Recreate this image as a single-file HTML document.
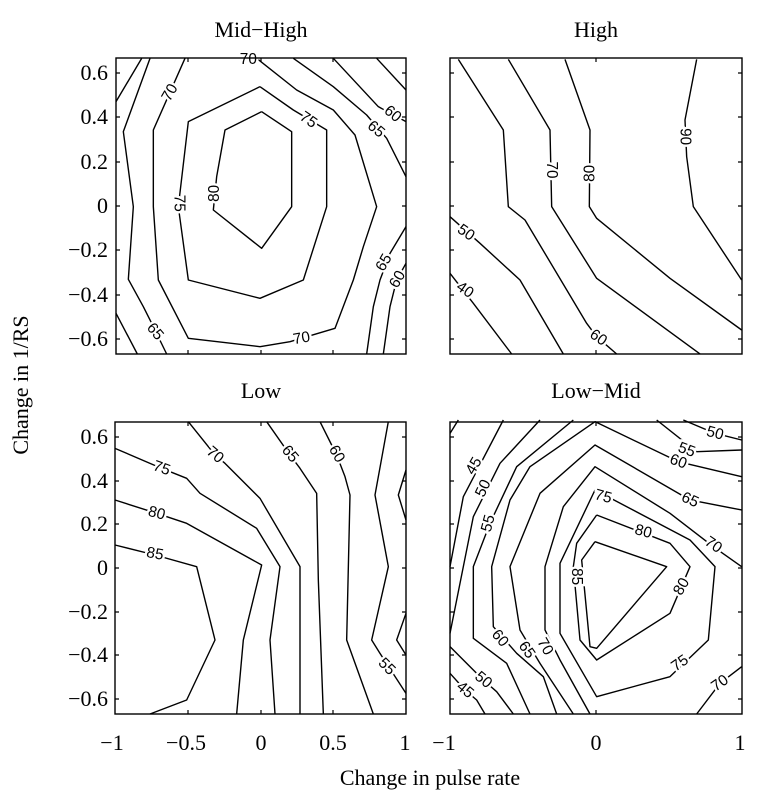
<!DOCTYPE html>
<html><head><meta charset="utf-8"><style>
html,body{margin:0;padding:0;background:#fff;}
svg{display:block;}
.t{font-family:"Liberation Serif",serif;font-size:22px;fill:#000;}
.c polyline{fill:none;stroke:#000;stroke-width:4.2;stroke-linejoin:round;}
.c text{font-family:"Liberation Sans",sans-serif;font-size:46px;fill:#000;stroke:#fff;stroke-width:14px;paint-order:stroke;text-anchor:middle;dominant-baseline:central;}
.ax{fill:none;stroke:#000;stroke-width:1.4;}
</style></head><body>
<svg width="778" height="797" viewBox="0 0 778 797" xmlns="http://www.w3.org/2000/svg">
<rect width="778" height="797" fill="#fff"/>

<g class="c" transform="translate(100,40) scale(0.33333)">
<polyline points="48,185 125,55"/>
<polyline points="150,55 70,275 100,500 85,718 130,800 150,840 200,942"/>
<polyline points="48,820 112,942"/>
<polyline points="255,55 160,270 160,500 175,720 265,895 480,920 570,905 705,865 760,720 790,620 830,500 765,285 700,210 590,150 470,55"/>
<polyline points="580,55 700,140 800,225 860,295 918,410"/>
<polyline points="700,55 835,200 918,245"/>
<polyline points="830,55 918,150"/>
<polyline points="918,560 870,640 840,720 820,800 800,942"/>
<polyline points="918,670 890,720 870,800 850,942"/>
<polyline points="480,140 265,245 235,500 265,720 480,775 610,720 680,500 680,270 580,210 480,140"/>
<polyline points="485,215 375,270 350,410 340,510 485,625 575,500 575,275 485,215"/>
<text x="210" y="158" transform="rotate(-60 210 158)">70</text>
<text x="445" y="58">70</text>
<text x="605" y="895" transform="rotate(-10 605 895)">70</text>
<text x="165" y="875" transform="rotate(50 165 875)">65</text>
<text x="625" y="240" transform="rotate(35 625 240)">75</text>
<text x="237" y="490" transform="rotate(90 237 490)">75</text>
<text x="343" y="460" transform="rotate(-90 343 460)">80</text>
<text x="828" y="268" transform="rotate(40 828 268)">65</text>
<text x="878" y="222" transform="rotate(40 878 222)">60</text>
<text x="852" y="668" transform="rotate(-60 852 668)">65</text>
<text x="893" y="718" transform="rotate(-60 893 718)">60</text>
</g>

<g class="c" transform="translate(430,40) scale(0.33333)">
<polyline points="60,530 150,610 270,720 400,942"/>
<polyline points="60,700 130,790 245,942"/>
<polyline points="85,58 220,270 235,500 285,540 470,850 500,890 560,942"/>
<polyline points="235,58 360,270 365,500 500,715 810,942"/>
<polyline points="405,58 480,270 478,500 500,535 720,715 935,870"/>
<polyline points="800,58 765,240 770,350 790,500 935,720"/>
<text x="108" y="578" transform="rotate(35 108 578)">50</text>
<text x="105" y="750" transform="rotate(35 105 750)">40</text>
<text x="505" y="893" transform="rotate(35 505 893)">60</text>
<text x="365" y="390" transform="rotate(90 365 390)">70</text>
<text x="480" y="400" transform="rotate(-90 480 400)">80</text>
<text x="765" y="290" transform="rotate(90 765 290)">90</text>
</g>

<g class="c" transform="translate(100,400) scale(0.33333)">
<polyline points="45,435 165,465 290,500 345,720 260,900 150,942"/>
<polyline points="45,300 170,340 260,370 485,495 430,720 410,942"/>
<polyline points="45,145 185,205 260,235 300,280 470,385 540,500 510,720 525,942"/>
<polyline points="265,65 345,165 375,190 480,295 600,500 600,942"/>
<polyline points="500,65 570,165 600,205 650,280 655,540 670,942"/>
<polyline points="660,65 710,165 735,230 750,285 740,720 820,942"/>
<polyline points="865,65 825,285 865,500 815,720 840,760 918,880"/>
<polyline points="918,210 895,285 918,360"/>
<polyline points="918,640 890,720 918,765"/>
<text x="165" y="462" transform="rotate(10 165 462)">85</text>
<text x="170" y="340" transform="rotate(15 170 340)">80</text>
<text x="185" y="205" transform="rotate(20 185 205)">75</text>
<text x="345" y="165" transform="rotate(40 345 165)">70</text>
<text x="570" y="162" transform="rotate(50 570 162)">65</text>
<text x="710" y="162" transform="rotate(60 710 162)">60</text>
<text x="860" y="800" transform="rotate(45 860 800)">55</text>
</g>

<g class="c" transform="translate(430,400) scale(0.33333)">
<polyline points="60,100 85,60"/>
<polyline points="60,500 100,290 220,60"/>
<polyline points="60,700 100,500 130,350 210,190 330,60"/>
<polyline points="430,60 260,200 180,370 130,500 130,715 230,790 300,942"/>
<polyline points="935,120 855,100 760,60"/>
<polyline points="935,150 800,155 680,60"/>
<polyline points="935,230 745,185 495,65 300,200 240,300 185,500 190,680 260,760 340,830 380,942"/>
<polyline points="935,330 780,300 495,135 330,280 240,500 270,690 330,790 430,942"/>
<polyline points="935,500 850,440 720,340 495,200 400,320 345,500 345,690 390,780 480,942"/>
<polyline points="495,270 390,490 390,700 500,890 720,830 835,720 855,500 780,420 495,270"/>
<polyline points="500,345 440,430 430,500 450,720 500,780 720,640 780,500 720,430 500,345"/>
<polyline points="495,425 455,480 480,740 500,745 710,500 495,425"/>
<polyline points="60,740 160,840 200,875 250,942"/>
<polyline points="60,820 105,870 140,900 165,942"/>
<polyline points="935,800 870,850 800,942"/>
<text x="132" y="198" transform="rotate(-60 132 198)">45</text>
<text x="160" y="265" transform="rotate(-65 160 265)">50</text>
<text x="175" y="370" transform="rotate(-75 175 370)">55</text>
<text x="855" y="100" transform="rotate(15 855 100)">50</text>
<text x="770" y="150" transform="rotate(20 770 150)">55</text>
<text x="745" y="185" transform="rotate(20 745 185)">60</text>
<text x="780" y="300" transform="rotate(25 780 300)">65</text>
<text x="850" y="435" transform="rotate(35 850 435)">70</text>
<text x="520" y="290" transform="rotate(15 520 290)">75</text>
<text x="640" y="395" transform="rotate(15 640 395)">80</text>
<text x="440" y="530" transform="rotate(90 440 530)">85</text>
<text x="755" y="560" transform="rotate(-60 755 560)">80</text>
<text x="750" y="790" transform="rotate(-35 750 790)">75</text>
<text x="870" y="850" transform="rotate(-35 870 850)">70</text>
<text x="210" y="715" transform="rotate(50 210 715)">60</text>
<text x="290" y="750" transform="rotate(55 290 750)">65</text>
<text x="345" y="740" transform="rotate(60 345 740)">70</text>
<text x="160" y="840" transform="rotate(40 160 840)">50</text>
<text x="105" y="870" transform="rotate(40 105 870)">45</text>
</g>

<rect class="ax" x="116" y="58" width="290" height="296"/>
<rect class="ax" x="450" y="58" width="292" height="296"/>
<rect class="ax" x="115" y="422" width="291" height="292"/>
<rect class="ax" x="450" y="422" width="292" height="292"/>

<g stroke="#000" stroke-width="1.2">
<path d="M116,73h4M116,117h4M116,162h4M116,206h4M116,250h4M116,295h4M116,339h4M406,73h-4M406,117h-4M406,162h-4M406,206h-4M406,250h-4M406,295h-4M406,339h-4"/>
<path d="M450,73h4M450,117h4M450,162h4M450,206h4M450,250h4M450,295h4M450,339h4M742,73h-4M742,117h-4M742,162h-4M742,206h-4M742,250h-4M742,295h-4M742,339h-4"/>
<path d="M115,437h4M115,481h4M115,524h4M115,568h4M115,612h4M115,655h4M115,699h4M406,437h-4M406,481h-4M406,524h-4M406,568h-4M406,612h-4M406,655h-4M406,699h-4"/>
<path d="M450,437h4M450,481h4M450,524h4M450,568h4M450,612h4M450,655h4M450,699h4M742,437h-4M742,481h-4M742,524h-4M742,568h-4M742,612h-4M742,655h-4M742,699h-4"/>
<path d="M188,354v-4M261,354v-4M333,354v-4M188,58v4M261,58v4M333,58v4M596,354v-4M596,58v4"/>
<path d="M188,714v-4M261,714v-4M333,714v-4M188,422v4M261,422v4M333,422v4M596,714v-4M596,422v4"/>
</g>

<g class="t" text-anchor="end">
<text x="108" y="80">0.6</text><text x="108" y="124">0.4</text><text x="108" y="169">0.2</text><text x="108" y="213">0</text><text x="108" y="257">−0.2</text><text x="108" y="302">−0.4</text><text x="108" y="346">−0.6</text>
<text x="108" y="444">0.6</text><text x="108" y="488">0.4</text><text x="108" y="531">0.2</text><text x="108" y="575">0</text><text x="108" y="619">−0.2</text><text x="108" y="662">−0.4</text><text x="108" y="706">−0.6</text>
</g>
<g class="t" text-anchor="middle">
<text x="112" y="750">−1</text><text x="186" y="750">−0.5</text><text x="261" y="750">0</text><text x="333" y="750">0.5</text><text x="405" y="750">1</text>
<text x="444" y="750">−1</text><text x="596" y="750">0</text><text x="740" y="750">1</text>
</g>
<g class="t" text-anchor="middle">
<text x="261" y="37">Mid−High</text>
<text x="596" y="37">High</text>
<text x="261" y="398">Low</text>
<text x="596" y="398">Low−Mid</text>
<text x="430" y="785">Change in pulse rate</text>
<text x="0" y="0" transform="translate(28,385) rotate(-90)">Change in 1/RS</text>
</g>
</svg>
</body></html>
